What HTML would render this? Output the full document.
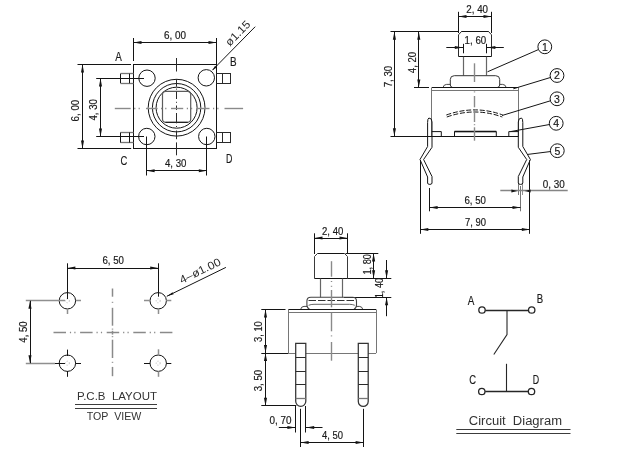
<!DOCTYPE html>
<html><head><meta charset="utf-8"><title>Tact switch drawing</title>
<style>
html,body{margin:0;padding:0;background:#fff;}
body{width:629px;height:450px;overflow:hidden;font-family:"Liberation Sans",sans-serif;}
svg{display:block;}
svg text{font-family:"Liberation Sans",sans-serif;white-space:pre;stroke:#1a1a1a;stroke-width:0.18px;}
</style></head><body>
<svg width="629" height="450" viewBox="0 0 629 450" xml:space="preserve">
<rect width="629" height="450" fill="#ffffff"/>
<g opacity="0.999">
<rect x="133.50" y="64.50" width="83.00" height="84.00" rx="0" stroke="#141414" stroke-width="1.0" fill="none"/>
<line x1="133.50" y1="38.00" x2="133.50" y2="61.00" stroke="#141414" stroke-width="1.0" />
<line x1="216.50" y1="38.00" x2="216.50" y2="64.50" stroke="#141414" stroke-width="1.0" />
<line x1="133.50" y1="42.50" x2="216.50" y2="42.50" stroke="#141414" stroke-width="1.0" />
<polygon points="133.50,42.50 141.50,40.95 141.50,44.05" fill="#141414"/>
<polygon points="216.50,42.50 208.50,44.05 208.50,40.95" fill="#141414"/>
<text x="164.00" y="39.30" font-size="10.0" fill="#1a1a1a" text-anchor="start" textLength="22.00" lengthAdjust="spacingAndGlyphs" >6, 00</text>
<line x1="77.50" y1="64.50" x2="131.00" y2="64.50" stroke="#141414" stroke-width="1.0" />
<line x1="77.50" y1="148.50" x2="131.20" y2="148.50" stroke="#141414" stroke-width="1.0" />
<line x1="82.50" y1="64.50" x2="82.50" y2="148.50" stroke="#141414" stroke-width="1.0" />
<polygon points="82.50,64.50 84.05,72.50 80.95,72.50" fill="#141414"/>
<polygon points="82.50,148.50 80.95,140.50 84.05,140.50" fill="#141414"/>
<text x="78.78" y="121.47" font-size="10.0" fill="#1a1a1a" text-anchor="start" textLength="21.75" lengthAdjust="spacingAndGlyphs" transform="rotate(-90 78.78 121.47)" >6, 00</text>
<line x1="96.20" y1="78.50" x2="144.00" y2="78.50" stroke="#141414" stroke-width="1.0" />
<line x1="96.20" y1="136.50" x2="144.00" y2="136.50" stroke="#141414" stroke-width="1.0" />
<line x1="100.50" y1="78.60" x2="100.50" y2="136.50" stroke="#141414" stroke-width="1.0" />
<polygon points="100.50,78.60 102.05,86.60 98.95,86.60" fill="#141414"/>
<polygon points="100.50,136.50 98.95,128.50 102.05,128.50" fill="#141414"/>
<text x="96.78" y="120.55" font-size="10.0" fill="#1a1a1a" text-anchor="start" textLength="21.50" lengthAdjust="spacingAndGlyphs" transform="rotate(-90 96.78 120.55)" >4, 30</text>
<line x1="120.50" y1="73.50" x2="133.50" y2="73.50" stroke="#767676" stroke-width="1.3" />
<line x1="120.50" y1="83.50" x2="133.50" y2="83.50" stroke="#767676" stroke-width="1.3" />
<line x1="120.50" y1="73.70" x2="120.50" y2="83.20" stroke="#141414" stroke-width="1.0" />
<line x1="129.50" y1="73.70" x2="129.50" y2="83.20" stroke="#141414" stroke-width="1.0" />
<line x1="216.50" y1="73.50" x2="231.00" y2="73.50" stroke="#2a2a2a" stroke-width="1.0" />
<line x1="216.50" y1="83.50" x2="231.00" y2="83.50" stroke="#2a2a2a" stroke-width="1.0" />
<line x1="230.50" y1="73.20" x2="230.50" y2="83.70" stroke="#2a2a2a" stroke-width="1.0" />
<line x1="222.50" y1="73.70" x2="222.50" y2="83.20" stroke="#2a2a2a" stroke-width="1.0" />
<line x1="120.50" y1="132.50" x2="133.50" y2="132.50" stroke="#767676" stroke-width="1.3" />
<line x1="120.50" y1="142.50" x2="133.50" y2="142.50" stroke="#767676" stroke-width="1.3" />
<line x1="120.50" y1="132.50" x2="120.50" y2="142.60" stroke="#141414" stroke-width="1.0" />
<line x1="129.50" y1="132.50" x2="129.50" y2="142.60" stroke="#141414" stroke-width="1.0" />
<line x1="216.50" y1="132.50" x2="231.00" y2="132.50" stroke="#2a2a2a" stroke-width="1.0" />
<line x1="216.50" y1="142.50" x2="231.00" y2="142.50" stroke="#2a2a2a" stroke-width="1.0" />
<line x1="230.50" y1="132.00" x2="230.50" y2="143.10" stroke="#2a2a2a" stroke-width="1.0" />
<line x1="222.50" y1="132.50" x2="222.50" y2="142.60" stroke="#2a2a2a" stroke-width="1.0" />
<circle cx="147.00" cy="78.20" r="8.20" stroke="#141414" stroke-width="1.0" fill="none"/>
<circle cx="206.30" cy="77.80" r="8.20" stroke="#141414" stroke-width="1.0" fill="none"/>
<circle cx="146.80" cy="136.50" r="8.20" stroke="#141414" stroke-width="1.0" fill="none"/>
<circle cx="206.80" cy="136.50" r="8.20" stroke="#141414" stroke-width="1.0" fill="none"/>
<circle cx="176.60" cy="107.70" r="28.40" stroke="#141414" stroke-width="1.0" fill="none"/>
<circle cx="176.60" cy="107.70" r="24.20" stroke="#141414" stroke-width="1.0" fill="none"/>
<circle cx="176.60" cy="107.70" r="20.50" stroke="#141414" stroke-width="1.0" fill="none"/>
<rect x="162.50" y="91.30" width="28.20" height="31.00" rx="3.2" stroke="#5c5c5c" stroke-width="1.2" fill="none"/>
<path d="M165.5,122.3 H187.7" stroke="#141414" stroke-width="1.0" fill="none" />
<line x1="176.50" y1="58.00" x2="176.50" y2="71.50" stroke="#2a2a2a" stroke-width="1.0" />
<line x1="176.50" y1="79.00" x2="176.50" y2="86.70" stroke="#2a2a2a" stroke-width="1.0" />
<line x1="176.50" y1="88.60" x2="176.50" y2="89.60" stroke="#2a2a2a" stroke-width="1.0" />
<line x1="176.50" y1="91.60" x2="176.50" y2="99.00" stroke="#2a2a2a" stroke-width="1.0" />
<line x1="176.50" y1="101.80" x2="176.50" y2="102.80" stroke="#2a2a2a" stroke-width="1.0" />
<line x1="176.50" y1="105.50" x2="176.50" y2="110.00" stroke="#2a2a2a" stroke-width="1.0" />
<line x1="176.50" y1="113.00" x2="176.50" y2="123.30" stroke="#2a2a2a" stroke-width="1.0" />
<line x1="176.50" y1="126.00" x2="176.50" y2="127.00" stroke="#2a2a2a" stroke-width="1.0" />
<line x1="176.50" y1="130.50" x2="176.50" y2="139.20" stroke="#2a2a2a" stroke-width="1.0" />
<line x1="176.50" y1="142.40" x2="176.50" y2="155.30" stroke="#2a2a2a" stroke-width="1.0" />
<line x1="114.80" y1="108.50" x2="130.70" y2="108.50" stroke="#8a8a8a" stroke-width="1.4" />
<line x1="134.20" y1="108.50" x2="135.40" y2="108.50" stroke="#8a8a8a" stroke-width="1.4" />
<line x1="138.60" y1="108.50" x2="139.80" y2="108.50" stroke="#8a8a8a" stroke-width="1.4" />
<line x1="146.00" y1="108.50" x2="157.60" y2="108.50" stroke="#8a8a8a" stroke-width="1.4" />
<line x1="161.00" y1="108.50" x2="162.20" y2="108.50" stroke="#8a8a8a" stroke-width="1.4" />
<line x1="165.20" y1="108.50" x2="166.40" y2="108.50" stroke="#8a8a8a" stroke-width="1.4" />
<line x1="171.00" y1="108.50" x2="183.20" y2="108.50" stroke="#8a8a8a" stroke-width="1.4" />
<line x1="186.80" y1="108.50" x2="188.00" y2="108.50" stroke="#8a8a8a" stroke-width="1.4" />
<line x1="191.00" y1="108.50" x2="192.20" y2="108.50" stroke="#8a8a8a" stroke-width="1.4" />
<line x1="197.60" y1="108.50" x2="209.50" y2="108.50" stroke="#8a8a8a" stroke-width="1.4" />
<line x1="213.00" y1="108.50" x2="214.20" y2="108.50" stroke="#8a8a8a" stroke-width="1.4" />
<line x1="217.30" y1="108.50" x2="218.50" y2="108.50" stroke="#8a8a8a" stroke-width="1.4" />
<line x1="224.50" y1="108.50" x2="243.10" y2="108.50" stroke="#8a8a8a" stroke-width="1.4" />
<line x1="146.50" y1="136.50" x2="146.50" y2="175.50" stroke="#141414" stroke-width="1.0" />
<line x1="206.50" y1="136.50" x2="206.50" y2="175.50" stroke="#141414" stroke-width="1.0" />
<line x1="146.60" y1="170.50" x2="206.80" y2="170.50" stroke="#141414" stroke-width="1.0" />
<polygon points="146.60,170.80 154.60,169.25 154.60,172.35" fill="#141414"/>
<polygon points="206.80,170.80 198.80,172.35 198.80,169.25" fill="#141414"/>
<text x="165.00" y="167.00" font-size="10.0" fill="#1a1a1a" text-anchor="start" textLength="21.50" lengthAdjust="spacingAndGlyphs" >4, 30</text>
<text x="115.30" y="61.30" font-size="12.4" fill="#1a1a1a" text-anchor="start" textLength="6.60" lengthAdjust="spacingAndGlyphs" >A</text>
<text x="230.00" y="65.60" font-size="12.4" fill="#1a1a1a" text-anchor="start" textLength="6.60" lengthAdjust="spacingAndGlyphs" >B</text>
<text x="120.40" y="165.00" font-size="12.4" fill="#1a1a1a" text-anchor="start" textLength="6.80" lengthAdjust="spacingAndGlyphs" >C</text>
<text x="226.00" y="163.00" font-size="12.4" fill="#1a1a1a" text-anchor="start" textLength="6.40" lengthAdjust="spacingAndGlyphs" >D</text>
<line x1="255.20" y1="26.70" x2="212.40" y2="70.20" stroke="#141414" stroke-width="1.0" />
<polygon points="212.40,70.20 215.12,65.86 216.69,67.40" fill="#141414"/>
<text x="229.80" y="46.80" font-size="11.2" fill="#2a2a2a" text-anchor="start" textLength="30.50" lengthAdjust="spacingAndGlyphs" transform="rotate(-45.5 229.80 46.80)" style="stroke:none">ø1.15</text>
<path d="M458.5,56.5 V34.8 L461.5,31.5 H488.5 L491.5,34.8 V56.5" stroke="#2a2a2a" stroke-width="1.0" fill="none" />
<line x1="461.50" y1="31.50" x2="488.50" y2="31.50" stroke="#141414" stroke-width="1.0" />
<line x1="458.50" y1="56.50" x2="491.50" y2="56.50" stroke="#141414" stroke-width="1.0" />
<line x1="458.50" y1="11.80" x2="458.50" y2="33.00" stroke="#141414" stroke-width="1.0" />
<line x1="491.50" y1="11.80" x2="491.50" y2="33.00" stroke="#141414" stroke-width="1.0" />
<line x1="458.50" y1="16.50" x2="491.50" y2="16.50" stroke="#141414" stroke-width="1.0" />
<polygon points="458.50,16.50 466.50,14.95 466.50,18.05" fill="#141414"/>
<polygon points="491.50,16.50 483.50,18.05 483.50,14.95" fill="#141414"/>
<text x="466.30" y="12.80" font-size="10.0" fill="#1a1a1a" text-anchor="start" textLength="21.70" lengthAdjust="spacingAndGlyphs" >2, 40</text>
<line x1="463.50" y1="43.80" x2="463.50" y2="53.30" stroke="#141414" stroke-width="1.0" />
<line x1="486.50" y1="43.80" x2="486.50" y2="53.30" stroke="#141414" stroke-width="1.0" />
<line x1="446.30" y1="47.50" x2="463.30" y2="47.50" stroke="#141414" stroke-width="1.0" />
<polygon points="462.80,47.50 454.80,49.05 454.80,45.95" fill="#141414"/>
<line x1="486.90" y1="47.50" x2="503.80" y2="47.50" stroke="#141414" stroke-width="1.0" />
<polygon points="487.40,47.50 495.40,45.95 495.40,49.05" fill="#141414"/>
<text x="464.60" y="43.80" font-size="10.0" fill="#1a1a1a" text-anchor="start" textLength="21.60" lengthAdjust="spacingAndGlyphs" >1, 60</text>
<line x1="463.50" y1="56.80" x2="463.50" y2="75.50" stroke="#666" stroke-width="1.2" />
<line x1="486.50" y1="56.80" x2="486.50" y2="75.50" stroke="#666" stroke-width="1.2" />
<path d="M452.3,87.2 Q450.3,87 450.3,85 V79.5 Q450.3,75.7 454.3,75.7 H495.7 Q499.7,75.7 499.7,79.5 V85 Q499.7,87 497.7,87.2" stroke="#333" stroke-width="1.0" fill="none" />
<path d="M443,87.4 Q443.8,84.4 446.6,84.4 H450.3" stroke="#333" stroke-width="0.9" fill="none" />
<path d="M506.2,87.4 Q505.4,84.4 502.6,84.4 H499.7" stroke="#333" stroke-width="0.9" fill="none" />
<line x1="431.80" y1="87.50" x2="518.30" y2="87.50" stroke="#141414" stroke-width="1.0" />
<line x1="431.80" y1="90.50" x2="518.30" y2="90.50" stroke="#767676" stroke-width="1.0" />
<line x1="431.50" y1="87.50" x2="431.50" y2="136.30" stroke="#767676" stroke-width="1.0" />
<line x1="518.50" y1="87.50" x2="518.50" y2="136.30" stroke="#767676" stroke-width="1.0" />
<line x1="390.50" y1="136.50" x2="518.30" y2="136.50" stroke="#141414" stroke-width="1.0" />
<line x1="390.50" y1="31.50" x2="458.50" y2="31.50" stroke="#141414" stroke-width="1.0" />
<line x1="394.50" y1="31.80" x2="394.50" y2="136.30" stroke="#141414" stroke-width="1.0" />
<polygon points="394.40,31.80 395.95,39.80 392.85,39.80" fill="#141414"/>
<polygon points="394.40,136.30 392.85,128.30 395.95,128.30" fill="#141414"/>
<text x="391.58" y="87.25" font-size="10.0" fill="#1a1a1a" text-anchor="start" textLength="21.50" lengthAdjust="spacingAndGlyphs" transform="rotate(-90 391.58 87.25)" >7, 30</text>
<line x1="414.00" y1="87.50" x2="429.00" y2="87.50" stroke="#141414" stroke-width="1.0" />
<line x1="418.50" y1="31.80" x2="418.50" y2="87.40" stroke="#141414" stroke-width="1.0" />
<polygon points="418.80,31.80 420.35,39.80 417.25,39.80" fill="#141414"/>
<polygon points="418.80,87.40 417.25,79.40 420.35,79.40" fill="#141414"/>
<text x="415.58" y="73.15" font-size="10.0" fill="#1a1a1a" text-anchor="start" textLength="21.30" lengthAdjust="spacingAndGlyphs" transform="rotate(-90 415.58 73.15)" >4, 20</text>
<path d="M431.8,131.6 H441.3 V136.3" stroke="#141414" stroke-width="1.0" fill="none" />
<path d="M454.5,136.3 V131.6 H496.3 V136.3" stroke="#141414" stroke-width="1.0" fill="none" />
<line x1="454.50" y1="131.50" x2="496.30" y2="131.50" stroke="#141414" stroke-width="1.4" />
<path d="M518.3,131.6 H508.8 V136.3" stroke="#141414" stroke-width="1.0" fill="none" />
<path d="M446.3,115 Q475,104.8 502.8,115" stroke="#141414" stroke-width="1.0" fill="none" stroke-dasharray="5 1.8"/>
<path d="M446.8,117 Q475,107 502.3,117" stroke="#141414" stroke-width="1.0" fill="none" stroke-dasharray="5 1.8"/>
<line x1="474.50" y1="63.30" x2="474.50" y2="82.00" stroke="#8a8a8a" stroke-width="1.4" />
<line x1="474.50" y1="91.40" x2="474.50" y2="92.40" stroke="#8a8a8a" stroke-width="1.4" />
<line x1="474.50" y1="96.00" x2="474.50" y2="107.30" stroke="#8a8a8a" stroke-width="1.4" />
<line x1="474.50" y1="110.00" x2="474.50" y2="122.00" stroke="#8a8a8a" stroke-width="1.4" />
<line x1="474.50" y1="124.20" x2="474.50" y2="125.20" stroke="#8a8a8a" stroke-width="1.4" />
<line x1="474.50" y1="127.30" x2="474.50" y2="140.70" stroke="#8a8a8a" stroke-width="1.4" />
<path d="M432,122 Q432,118 428.92,118 Q427.6,118.3 427.6,122.5 V146.5 L420.0,159.5 L427.6,177 V183 Q427.6,184.4 429.8,184.4 Q432,184.4 432,183 V176.5 L423.6,159.5 L432,147.3 Z" stroke="#141414" stroke-width="1.0" fill="none" stroke-linejoin="round"/>
<path d="M518.3,122 Q518.3,118 521.45,118 Q522.8,118.3 522.8,122.5 V146.5 L530.4,159.5 L522.8,177 V183 Q522.8,184.4 520.55,184.4 Q518.3,184.4 518.3,183 V176.5 L526.6999999999999,159.5 L518.3,147.3 Z" stroke="#141414" stroke-width="1.0" fill="none" stroke-linejoin="round"/>
<line x1="420.50" y1="160.30" x2="420.50" y2="233.80" stroke="#141414" stroke-width="1.0" />
<line x1="529.50" y1="160.30" x2="529.50" y2="233.80" stroke="#141414" stroke-width="1.0" />
<line x1="420.30" y1="229.50" x2="529.80" y2="229.50" stroke="#141414" stroke-width="1.0" />
<polygon points="420.30,229.50 428.30,227.95 428.30,231.05" fill="#141414"/>
<polygon points="529.80,229.50 521.80,231.05 521.80,227.95" fill="#141414"/>
<text x="465.00" y="226.10" font-size="10.0" fill="#1a1a1a" text-anchor="start" textLength="21.00" lengthAdjust="spacingAndGlyphs" >7, 90</text>
<line x1="429.50" y1="188.00" x2="429.50" y2="211.30" stroke="#141414" stroke-width="1.0" />
<line x1="520.50" y1="186.00" x2="520.50" y2="211.30" stroke="#767676" stroke-width="1.0" />
<line x1="429.60" y1="207.50" x2="520.50" y2="207.50" stroke="#141414" stroke-width="1.0" />
<polygon points="429.60,207.50 437.60,205.95 437.60,209.05" fill="#141414"/>
<polygon points="520.50,207.50 512.50,209.05 512.50,205.95" fill="#141414"/>
<text x="464.50" y="203.60" font-size="10.0" fill="#1a1a1a" text-anchor="start" textLength="21.50" lengthAdjust="spacingAndGlyphs" >6, 50</text>
<line x1="518.50" y1="184.00" x2="518.50" y2="195.00" stroke="#767676" stroke-width="1.0" />
<line x1="522.50" y1="184.00" x2="522.50" y2="195.00" stroke="#767676" stroke-width="0.8" />
<line x1="500.30" y1="190.50" x2="567.70" y2="190.50" stroke="#858585" stroke-width="1.7" />
<polygon points="517.40,191.00 511.40,192.55 511.40,189.45" fill="#141414"/>
<polygon points="524.60,191.00 530.60,189.45 530.60,192.55" fill="#141414"/>
<text x="542.80" y="187.60" font-size="10.0" fill="#1a1a1a" text-anchor="start" textLength="22.00" lengthAdjust="spacingAndGlyphs" >0, 30</text>
<circle cx="544.80" cy="46.80" r="6.90" stroke="#141414" stroke-width="1.0" fill="none"/>
<line x1="538.48" y1="49.56" x2="487.50" y2="71.80" stroke="#141414" stroke-width="1.0" />
<text x="544.80" y="50.60" font-size="10.5" fill="#1a1a1a" text-anchor="middle" >1</text>
<circle cx="557.00" cy="75.50" r="6.90" stroke="#141414" stroke-width="1.0" fill="none"/>
<line x1="550.40" y1="77.51" x2="513.30" y2="88.80" stroke="#141414" stroke-width="1.0" />
<text x="557.00" y="79.30" font-size="10.5" fill="#1a1a1a" text-anchor="middle" >2</text>
<circle cx="557.00" cy="98.80" r="6.90" stroke="#141414" stroke-width="1.0" fill="none"/>
<line x1="550.40" y1="100.80" x2="502.00" y2="115.50" stroke="#141414" stroke-width="1.0" />
<text x="557.00" y="102.60" font-size="10.5" fill="#1a1a1a" text-anchor="middle" >3</text>
<circle cx="556.20" cy="123.30" r="6.90" stroke="#141414" stroke-width="1.0" fill="none"/>
<line x1="549.41" y1="124.53" x2="510.50" y2="131.60" stroke="#141414" stroke-width="1.0" />
<text x="556.20" y="127.10" font-size="10.5" fill="#1a1a1a" text-anchor="middle" >4</text>
<circle cx="557.30" cy="150.70" r="6.90" stroke="#141414" stroke-width="1.0" fill="none"/>
<line x1="550.45" y1="151.56" x2="527.80" y2="154.40" stroke="#141414" stroke-width="1.0" />
<text x="557.30" y="154.50" font-size="10.5" fill="#1a1a1a" text-anchor="middle" >5</text>
<circle cx="67.40" cy="300.80" r="8.20" stroke="#141414" stroke-width="1.0" fill="none"/>
<circle cx="67.4" cy="300.8" r="2" stroke="#aaaaaa" stroke-width="0.8" fill="none" stroke-dasharray="1 1.6"/>
<circle cx="67.40" cy="363.20" r="8.20" stroke="#141414" stroke-width="1.0" fill="none"/>
<circle cx="67.4" cy="363.2" r="2" stroke="#aaaaaa" stroke-width="0.8" fill="none" stroke-dasharray="1 1.6"/>
<circle cx="158.20" cy="300.80" r="8.20" stroke="#141414" stroke-width="1.0" fill="none"/>
<circle cx="158.2" cy="300.8" r="2" stroke="#aaaaaa" stroke-width="0.8" fill="none" stroke-dasharray="1 1.6"/>
<circle cx="158.20" cy="363.20" r="8.20" stroke="#141414" stroke-width="1.0" fill="none"/>
<circle cx="158.2" cy="363.2" r="2" stroke="#aaaaaa" stroke-width="0.8" fill="none" stroke-dasharray="1 1.6"/>
<line x1="67.50" y1="263.30" x2="67.50" y2="299.00" stroke="#141414" stroke-width="1.0" />
<line x1="158.50" y1="263.30" x2="158.50" y2="296.70" stroke="#141414" stroke-width="1.0" />
<line x1="67.50" y1="309.00" x2="67.50" y2="314.00" stroke="#8f8f8f" stroke-width="1.5" />
<line x1="158.50" y1="309.00" x2="158.50" y2="314.00" stroke="#8f8f8f" stroke-width="1.5" />
<line x1="25.80" y1="300.50" x2="65.00" y2="300.50" stroke="#8f8f8f" stroke-width="1.5" />
<line x1="76.00" y1="300.50" x2="81.00" y2="300.50" stroke="#8f8f8f" stroke-width="1.5" />
<line x1="144.00" y1="300.50" x2="150.00" y2="300.50" stroke="#8f8f8f" stroke-width="1.5" />
<line x1="166.30" y1="300.50" x2="171.30" y2="300.50" stroke="#8f8f8f" stroke-width="1.5" />
<line x1="67.40" y1="268.50" x2="158.20" y2="268.50" stroke="#141414" stroke-width="1.0" />
<polygon points="67.40,268.00 75.40,266.45 75.40,269.55" fill="#141414"/>
<polygon points="158.20,268.00 150.20,269.55 150.20,266.45" fill="#141414"/>
<text x="102.50" y="264.40" font-size="10.0" fill="#1a1a1a" text-anchor="start" textLength="21.50" lengthAdjust="spacingAndGlyphs" >6, 50</text>
<line x1="67.50" y1="349.60" x2="67.50" y2="356.00" stroke="#141414" stroke-width="1.0" />
<line x1="67.50" y1="371.00" x2="67.50" y2="376.80" stroke="#141414" stroke-width="1.0" />
<line x1="158.50" y1="349.30" x2="158.50" y2="355.00" stroke="#8f8f8f" stroke-width="1.5" />
<line x1="158.50" y1="371.30" x2="158.50" y2="376.80" stroke="#8f8f8f" stroke-width="1.5" />
<line x1="25.80" y1="363.50" x2="55.00" y2="363.50" stroke="#8f8f8f" stroke-width="1.5" />
<line x1="55.00" y1="363.50" x2="65.00" y2="363.50" stroke="#141414" stroke-width="1.0" />
<line x1="75.50" y1="363.50" x2="81.00" y2="363.50" stroke="#141414" stroke-width="1.0" />
<line x1="144.00" y1="363.50" x2="150.20" y2="363.50" stroke="#141414" stroke-width="1.0" />
<line x1="166.30" y1="363.50" x2="171.30" y2="363.50" stroke="#141414" stroke-width="1.0" />
<line x1="30.50" y1="300.80" x2="30.50" y2="363.20" stroke="#141414" stroke-width="1.0" />
<polygon points="30.00,300.80 31.55,308.80 28.45,308.80" fill="#141414"/>
<polygon points="30.00,363.20 28.45,355.20 31.55,355.20" fill="#141414"/>
<text x="26.78" y="342.65" font-size="10.0" fill="#1a1a1a" text-anchor="start" textLength="21.30" lengthAdjust="spacingAndGlyphs" transform="rotate(-90 26.78 342.65)" >4, 50</text>
<line x1="112.50" y1="288.50" x2="112.50" y2="296.70" stroke="#8a8a8a" stroke-width="1.5" />
<line x1="112.50" y1="301.80" x2="112.50" y2="302.80" stroke="#8a8a8a" stroke-width="1.5" />
<line x1="112.50" y1="307.80" x2="112.50" y2="325.70" stroke="#8a8a8a" stroke-width="1.5" />
<line x1="112.50" y1="328.60" x2="112.50" y2="329.60" stroke="#8a8a8a" stroke-width="1.5" />
<line x1="112.50" y1="330.80" x2="112.50" y2="334.60" stroke="#8a8a8a" stroke-width="1.5" />
<line x1="112.50" y1="336.20" x2="112.50" y2="337.20" stroke="#8a8a8a" stroke-width="1.5" />
<line x1="112.50" y1="339.70" x2="112.50" y2="358.00" stroke="#8a8a8a" stroke-width="1.5" />
<line x1="112.50" y1="361.80" x2="112.50" y2="362.80" stroke="#8a8a8a" stroke-width="1.5" />
<line x1="112.50" y1="366.90" x2="112.50" y2="376.20" stroke="#8a8a8a" stroke-width="1.5" />
<line x1="53.50" y1="332.50" x2="173.00" y2="332.50" stroke="#8a8a8a" stroke-width="1.5" stroke-dasharray="12.5 3.9 1.2 3.2 1.2 4.6"/>
<line x1="225.90" y1="267.40" x2="166.80" y2="296.30" stroke="#141414" stroke-width="1.0" />
<polygon points="166.80,296.30 172.56,292.15 173.62,294.30" fill="#141414"/>
<text x="181.80" y="284.00" font-size="11.2" fill="#2a2a2a" text-anchor="start" textLength="44.50" lengthAdjust="spacingAndGlyphs" transform="rotate(-26.06 181.80 284.00)" style="stroke:none">4–ø1.00</text>
<text x="77.00" y="399.60" font-size="11.5" fill="#333" text-anchor="start" textLength="80.00" lengthAdjust="spacingAndGlyphs" style="stroke:none">P.C.B  LAYOUT</text>
<line x1="75.00" y1="404.50" x2="157.00" y2="404.50" stroke="#3c3c3c" stroke-width="1.0" />
<line x1="75.00" y1="408.50" x2="157.00" y2="408.50" stroke="#3c3c3c" stroke-width="1.0" />
<text x="86.80" y="420.40" font-size="11.5" fill="#333" text-anchor="start" textLength="54.50" lengthAdjust="spacingAndGlyphs" style="stroke:none">TOP  VIEW</text>
<path d="M314.5,278.5 V256.5 L317.5,253.5 M344.5,253.5 L347.5,256.5 V278.5" stroke="#3a3a3a" stroke-width="1.0" fill="none" />
<line x1="317.50" y1="253.50" x2="344.50" y2="253.50" stroke="#141414" stroke-width="1.0" />
<line x1="314.50" y1="278.50" x2="347.50" y2="278.50" stroke="#141414" stroke-width="1.0" />
<line x1="314.50" y1="233.30" x2="314.50" y2="254.00" stroke="#141414" stroke-width="1.0" />
<line x1="347.50" y1="233.30" x2="347.50" y2="254.00" stroke="#141414" stroke-width="1.0" />
<line x1="314.50" y1="238.50" x2="347.50" y2="238.50" stroke="#141414" stroke-width="1.0" />
<polygon points="314.50,238.00 322.50,236.45 322.50,239.55" fill="#141414"/>
<polygon points="347.50,238.00 339.50,239.55 339.50,236.45" fill="#141414"/>
<text x="322.00" y="235.00" font-size="10.0" fill="#1a1a1a" text-anchor="start" textLength="21.30" lengthAdjust="spacingAndGlyphs" >2, 40</text>
<line x1="345.50" y1="253.50" x2="378.30" y2="253.50" stroke="#141414" stroke-width="1.0" />
<line x1="347.50" y1="278.50" x2="391.30" y2="278.50" stroke="#141414" stroke-width="1.0" />
<line x1="344.00" y1="297.50" x2="391.30" y2="297.50" stroke="#141414" stroke-width="1.0" />
<line x1="373.50" y1="253.40" x2="373.50" y2="278.30" stroke="#141414" stroke-width="1.0" />
<polygon points="373.60,253.40 375.15,261.40 372.05,261.40" fill="#141414"/>
<polygon points="373.60,278.30 372.05,270.30 375.15,270.30" fill="#141414"/>
<text x="370.58" y="274.55" font-size="10.0" fill="#1a1a1a" text-anchor="start" textLength="20.50" lengthAdjust="spacingAndGlyphs" transform="rotate(-90 370.58 274.55)" >1, 80</text>
<line x1="386.50" y1="260.00" x2="386.50" y2="278.30" stroke="#141414" stroke-width="1.0" />
<polygon points="386.60,278.30 385.05,270.30 388.15,270.30" fill="#141414"/>
<line x1="386.50" y1="297.30" x2="386.50" y2="316.20" stroke="#141414" stroke-width="1.0" />
<polygon points="386.60,297.30 388.15,305.30 385.05,305.30" fill="#141414"/>
<text x="382.98" y="298.25" font-size="10.0" fill="#1a1a1a" text-anchor="start" textLength="20.50" lengthAdjust="spacingAndGlyphs" transform="rotate(-90 382.98 298.25)" >1, 40</text>
<line x1="320.50" y1="278.60" x2="320.50" y2="297.30" stroke="#666" stroke-width="1.2" />
<line x1="342.50" y1="278.60" x2="342.50" y2="297.30" stroke="#666" stroke-width="1.2" />
<path d="M309.5,309.2 Q306.9,308 306.9,305 V301.2 Q306.9,297.3 310.9,297.3 H352.5 Q356.5,297.3 356.5,301.2 V305 Q356.5,308 354,309.2" stroke="#444" stroke-width="1.1" fill="none" />
<line x1="308.50" y1="300.50" x2="355.50" y2="300.50" stroke="#333" stroke-width="1.0" stroke-dasharray="7.5 2"/>
<path d="M308.6,305.3 Q311,304.3 314,304.3 H349.4 Q352.4,304.3 354.8,305.3" stroke="#555" stroke-width="0.9" fill="none" />
<path d="M300.6,309.4 Q301.3,306.4 304,306.4 H307.2" stroke="#333" stroke-width="0.9" fill="none" />
<path d="M362.8,309.4 Q362.1,306.4 359.4,306.4 H356.2" stroke="#333" stroke-width="0.9" fill="none" />
<line x1="288.30" y1="309.50" x2="376.10" y2="309.50" stroke="#141414" stroke-width="1.0" />
<line x1="288.30" y1="312.50" x2="376.10" y2="312.50" stroke="#767676" stroke-width="1.0" />
<line x1="288.50" y1="309.50" x2="288.50" y2="353.00" stroke="#767676" stroke-width="1.0" />
<line x1="376.50" y1="309.50" x2="376.50" y2="353.00" stroke="#767676" stroke-width="1.0" />
<line x1="288.30" y1="353.50" x2="376.10" y2="353.50" stroke="#767676" stroke-width="1.0" />
<line x1="331.50" y1="261.20" x2="331.50" y2="276.70" stroke="#8a8a8a" stroke-width="1.4" />
<line x1="331.50" y1="281.00" x2="331.50" y2="282.00" stroke="#8a8a8a" stroke-width="1.4" />
<line x1="331.50" y1="285.80" x2="331.50" y2="286.80" stroke="#8a8a8a" stroke-width="1.4" />
<line x1="331.50" y1="290.00" x2="331.50" y2="307.30" stroke="#8a8a8a" stroke-width="1.4" />
<line x1="331.50" y1="312.70" x2="331.50" y2="331.30" stroke="#8a8a8a" stroke-width="1.4" />
<line x1="331.50" y1="335.40" x2="331.50" y2="336.40" stroke="#8a8a8a" stroke-width="1.4" />
<line x1="331.50" y1="342.00" x2="331.50" y2="360.70" stroke="#8a8a8a" stroke-width="1.4" />
<line x1="261.30" y1="309.50" x2="285.50" y2="309.50" stroke="#141414" stroke-width="1.0" />
<line x1="261.30" y1="353.50" x2="288.30" y2="353.50" stroke="#141414" stroke-width="1.0" />
<line x1="261.30" y1="405.50" x2="296.30" y2="405.50" stroke="#141414" stroke-width="1.0" />
<line x1="265.50" y1="309.50" x2="265.50" y2="353.00" stroke="#141414" stroke-width="1.0" />
<polygon points="265.50,309.50 267.05,317.50 263.95,317.50" fill="#141414"/>
<polygon points="265.50,353.00 263.95,345.00 267.05,345.00" fill="#141414"/>
<line x1="265.50" y1="353.00" x2="265.50" y2="405.80" stroke="#141414" stroke-width="1.0" />
<polygon points="265.50,353.00 267.05,361.00 263.95,361.00" fill="#141414"/>
<polygon points="265.50,405.80 263.95,397.80 267.05,397.80" fill="#141414"/>
<text x="261.88" y="342.00" font-size="10.0" fill="#1a1a1a" text-anchor="start" textLength="20.80" lengthAdjust="spacingAndGlyphs" transform="rotate(-90 261.88 342.00)" >3, 10</text>
<text x="261.88" y="391.25" font-size="10.0" fill="#1a1a1a" text-anchor="start" textLength="21.30" lengthAdjust="spacingAndGlyphs" transform="rotate(-90 261.88 391.25)" >3, 50</text>
<path d="M295.7,343.4 H305.8 V401.34999999999997 A5.050000000000011,5.050000000000011 0 0 1 295.7,401.34999999999997 Z" stroke="#333" stroke-width="1.25" fill="#fff"/>
<line x1="295.70" y1="357.50" x2="305.80" y2="357.50" stroke="#2a2a2a" stroke-width="1.0" />
<line x1="295.70" y1="371.50" x2="305.80" y2="371.50" stroke="#2a2a2a" stroke-width="1.0" />
<line x1="295.70" y1="384.50" x2="305.80" y2="384.50" stroke="#2a2a2a" stroke-width="1.0" />
<line x1="295.70" y1="398.50" x2="305.80" y2="398.50" stroke="#777" stroke-width="1.3" />
<path d="M358.3,343.4 H368.2 V401.45 A4.949999999999989,4.949999999999989 0 0 1 358.3,401.45 Z" stroke="#333" stroke-width="1.25" fill="#fff"/>
<line x1="358.30" y1="357.50" x2="368.20" y2="357.50" stroke="#2a2a2a" stroke-width="1.0" />
<line x1="358.30" y1="371.50" x2="368.20" y2="371.50" stroke="#2a2a2a" stroke-width="1.0" />
<line x1="358.30" y1="384.50" x2="368.20" y2="384.50" stroke="#2a2a2a" stroke-width="1.0" />
<line x1="358.30" y1="398.50" x2="368.20" y2="398.50" stroke="#777" stroke-width="1.3" />
<line x1="295.50" y1="406.00" x2="295.50" y2="432.50" stroke="#141414" stroke-width="1.0" />
<line x1="305.50" y1="406.00" x2="305.50" y2="432.50" stroke="#141414" stroke-width="1.0" />
<line x1="278.80" y1="427.50" x2="295.20" y2="427.50" stroke="#141414" stroke-width="1.0" />
<polygon points="295.40,427.50 287.40,429.05 287.40,425.95" fill="#141414"/>
<line x1="305.80" y1="427.50" x2="322.50" y2="427.50" stroke="#141414" stroke-width="1.0" />
<polygon points="306.20,427.50 314.20,425.95 314.20,429.05" fill="#141414"/>
<text x="269.50" y="423.60" font-size="10.0" fill="#1a1a1a" text-anchor="start" textLength="22.00" lengthAdjust="spacingAndGlyphs" >0, 70</text>
<line x1="300.50" y1="408.80" x2="300.50" y2="447.00" stroke="#141414" stroke-width="1.0" />
<line x1="363.50" y1="408.80" x2="363.50" y2="447.00" stroke="#141414" stroke-width="1.0" />
<line x1="300.60" y1="442.50" x2="363.60" y2="442.50" stroke="#141414" stroke-width="1.0" />
<polygon points="300.60,442.50 308.60,440.95 308.60,444.05" fill="#141414"/>
<polygon points="363.60,442.50 355.60,444.05 355.60,440.95" fill="#141414"/>
<text x="322.00" y="439.00" font-size="10.0" fill="#1a1a1a" text-anchor="start" textLength="21.00" lengthAdjust="spacingAndGlyphs" >4, 50</text>
<circle cx="482.00" cy="310.00" r="3.20" stroke="#262626" stroke-width="1.3" fill="none"/>
<circle cx="531.70" cy="310.00" r="3.20" stroke="#262626" stroke-width="1.3" fill="none"/>
<circle cx="481.80" cy="391.50" r="3.20" stroke="#262626" stroke-width="1.3" fill="none"/>
<circle cx="531.50" cy="391.50" r="3.20" stroke="#262626" stroke-width="1.3" fill="none"/>
<line x1="485.40" y1="310.50" x2="528.30" y2="310.50" stroke="#262626" stroke-width="1.3" />
<line x1="485.20" y1="391.50" x2="528.10" y2="391.50" stroke="#262626" stroke-width="1.3" />
<path d="M507,310 V334.5 L493.8,354.5" stroke="#262626" stroke-width="1.1" fill="none" />
<line x1="506.50" y1="363.80" x2="506.50" y2="391.50" stroke="#262626" stroke-width="1.1" />
<text x="467.80" y="305.20" font-size="12.4" fill="#1a1a1a" text-anchor="start" textLength="6.60" lengthAdjust="spacingAndGlyphs" >A</text>
<text x="536.80" y="303.40" font-size="12.4" fill="#1a1a1a" text-anchor="start" textLength="6.40" lengthAdjust="spacingAndGlyphs" >B</text>
<text x="469.30" y="383.80" font-size="12.4" fill="#1a1a1a" text-anchor="start" textLength="6.80" lengthAdjust="spacingAndGlyphs" >C</text>
<text x="532.80" y="383.80" font-size="12.4" fill="#1a1a1a" text-anchor="start" textLength="6.40" lengthAdjust="spacingAndGlyphs" >D</text>
<text x="468.80" y="425.40" font-size="12" fill="#333" text-anchor="start" textLength="93.20" lengthAdjust="spacingAndGlyphs" style="stroke:none">Circuit  Diagram</text>
<line x1="456.30" y1="429.50" x2="570.50" y2="429.50" stroke="#3c3c3c" stroke-width="1.0" />
<line x1="456.30" y1="433.50" x2="570.50" y2="433.50" stroke="#3c3c3c" stroke-width="1.0" />
</g>
</svg>
</body></html>
